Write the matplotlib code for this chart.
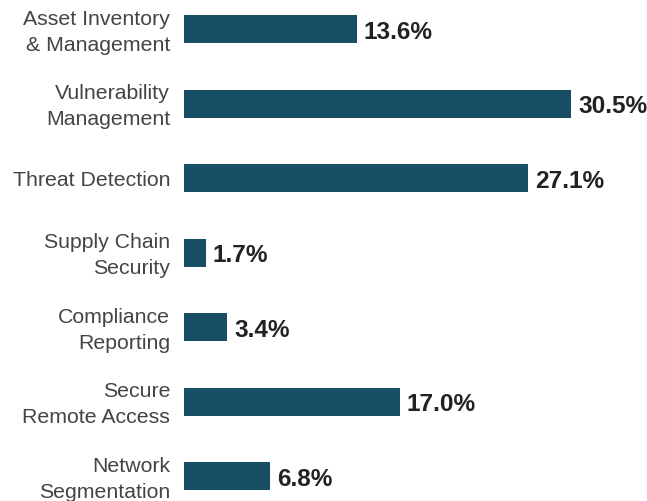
import matplotlib
matplotlib.use('Agg')
import matplotlib.pyplot as plt
from matplotlib.transforms import ScaledTranslation

categories = ['Asset Inventory\n& Management', 'Vulnerability\nManagement', 'Threat Detection',
              'Supply Chain\nSecurity', 'Compliance\nReporting', 'Secure\nRemote Access',
              'Network\nSegmentation']
values = [13.6, 30.5, 27.1, 1.7, 3.4, 17.0, 6.8]

plt.rcParams['font.family'] = ['Liberation Sans', 'DejaVu Sans']

W, H = 647, 502
fig = plt.figure(figsize=(W / 100, H / 100), dpi=100)
left = 184
ax = fig.add_axes([left / W, 0, (W - left) / W, 1])

step = 74.5
pos = list(range(len(values)))
ax.barh(pos, values, height=28 / step, color='#184f66')
ax.set_xlim(0, (W - left) / 12.69)
ax.set_ylim(6 + (H - 477) / step, -30 / step)

ax.set_yticks(pos)
ax.set_yticklabels(categories, fontsize=15.3, color='#444444', linespacing=1.45)
ax.tick_params(axis='y', length=0, pad=10)
# nudge the two-line labels up a little so they sit centred on the bar
shift = ScaledTranslation(0, 3 / 100, fig.dpi_scale_trans)
for lab in ax.get_yticklabels():
    if '\n' in lab.get_text():
        lab.set_transform(lab.get_transform() + shift)
ax.set_xticks([])
for s in ax.spines.values():
    s.set_visible(False)

for p, v in zip(pos, values):
    ax.annotate(f'{v:.1f}%', (v, p), xytext=(5, -1.5), textcoords='offset points',
                va='center', ha='left', fontsize=17.6, fontweight='bold', color='#222222')

fig.savefig('out.png', dpi=100)
